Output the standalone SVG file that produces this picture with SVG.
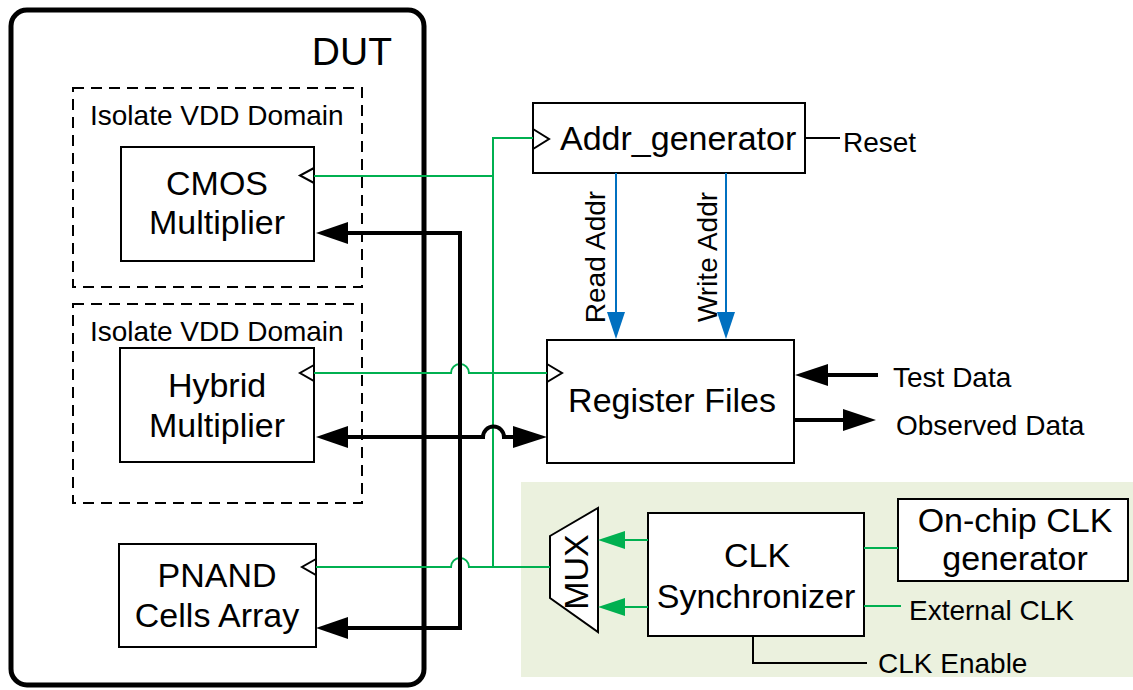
<svg xmlns="http://www.w3.org/2000/svg" width="1133" height="690" viewBox="0 0 1133 690">
<style>
text{font-family:"Liberation Sans",Arial,sans-serif;fill:#000}
.box{fill:#fff;stroke:#000;stroke-width:2}
.dash{fill:none;stroke:#000;stroke-width:2;stroke-dasharray:11 7}
.big{font-size:34px}
.lbl{font-size:28px}
.g{fill:none;stroke:#00B050;stroke-width:2}
.gthin{fill:none;stroke:#00B050;stroke-width:2}
.bk{fill:none;stroke:#000;stroke-width:4;stroke-linejoin:miter}
.thin{fill:none;stroke:#000;stroke-width:2}
.bl{fill:none;stroke:#0070C0;stroke-width:2}
.clk{fill:#fff;stroke:#000;stroke-width:2}
</style>
<rect x="521" y="482" width="612" height="195" fill="#EBF1DE"/>
<g id="dut">
<rect x="11" y="10" width="413" height="675" rx="16" ry="16" fill="none" stroke="#000" stroke-width="5"/>
<text x="392" y="65" font-size="39" text-anchor="end">DUT</text>
</g>
<g id="domain1">
<rect class="dash" x="73" y="88" width="289" height="199"/>
<text class="lbl" x="90" y="125">Isolate VDD Domain</text>
</g>
<g id="domain2">
<rect class="dash" x="73" y="304" width="289" height="199"/>
<text class="lbl" x="90" y="341">Isolate VDD Domain</text>
</g>
<g id="cmos">
<rect class="box" x="121" y="147" width="193" height="114"/>
<text class="big" x="217" y="195" text-anchor="middle">CMOS</text>
<text class="big" x="217" y="234" text-anchor="middle">Multiplier</text>
<polygon class="clk" points="314,168 300,175.5 314,183"/>
</g>
<g id="hybrid">
<rect class="box" x="120" y="348" width="194" height="114"/>
<text class="big" x="217" y="397" text-anchor="middle">Hybrid</text>
<text class="big" x="217" y="437" text-anchor="middle">Multiplier</text>
<polygon class="clk" points="314,365 300,373 314,381"/>
</g>
<g id="pnand">
<rect class="box" x="119" y="544" width="197" height="103"/>
<text class="big" x="217" y="587" text-anchor="middle">PNAND</text>
<text class="big" x="217" y="627" text-anchor="middle">Cells Array</text>
<polygon class="clk" points="316,559 302,567 316,575"/>
</g>
<g id="addr">
<rect class="box" x="533" y="103" width="272" height="70"/>
<polygon class="clk" points="533,129 549,139 533,149"/>
<text class="big" x="560" y="150">Addr_generator</text>
</g>
<g id="regfile">
<rect class="box" x="547" y="340" width="247" height="123"/>
<polygon class="clk" points="547,364 562,373 547,382"/>
<text class="big" x="672" y="412" text-anchor="middle">Register Files</text>
</g>
<g id="mux">
<polygon points="550,536 598,508 598,632 550,598" fill="#fff" stroke="#000" stroke-width="2"/>
<text x="588" y="572" font-size="34" text-anchor="middle" transform="rotate(-90 588 572)">MUX</text>
</g>
<g id="clksync">
<rect class="box" x="648" y="513" width="216" height="123"/>
<text class="big" x="757" y="567" text-anchor="middle">CLK</text>
<text class="big" x="756" y="608" text-anchor="middle">Synchronizer</text>
</g>
<g id="onchip">
<rect class="box" x="898" y="499" width="230" height="82"/>
<text class="big" x="1015" y="532" text-anchor="middle">On-chip CLK</text>
<text class="big" x="1015" y="570" text-anchor="middle">generator</text>
</g>
<g id="labels">
<text class="lbl" x="843" y="152">Reset</text>
<text class="lbl" x="605" y="257" text-anchor="middle" transform="rotate(-90 605 257)">Read Addr</text>
<text class="lbl" x="717" y="257" text-anchor="middle" transform="rotate(-90 717 257)">Write Addr</text>
<text class="lbl" x="893" y="387">Test Data</text>
<text class="lbl" x="896" y="435">Observed Data</text>
<text class="lbl" x="909" y="620">External CLK</text>
<text class="lbl" x="878" y="673">CLK Enable</text>
</g>
<g id="connectors">
<!-- green clock nets -->
<path class="g" d="M314 176 H493"/>
<path class="g" d="M493 567 V138 H533"/>
<path class="g" d="M314 373 H451 A9 9 0 0 1 469 373 H547"/>
<path class="g" d="M316 567 H451 A9 9 0 0 1 469 567 H550"/>
<path class="g" d="M864 548 H898"/>
<path class="g" d="M864 606 H901"/>
<path class="g" d="M648 540 H624"/>
<path class="g" d="M648 607 H624"/>
<polygon points="598,540 625,531 625,549" fill="#00B050"/>
<polygon points="598,607 625,598 625,616" fill="#00B050"/>
<!-- black data bus -->
<path class="bk" d="M346 233 H460 V628 H346"/>
<polygon points="316,233 348,222 348,244" fill="#000"/>
<polygon points="316,628 348,617 348,639" fill="#000"/>
<path class="bk" d="M346 437 H483 A10.5 10.5 0 0 1 504 437 H515"/>
<polygon points="316,437 348,426 348,448" fill="#000"/>
<polygon points="547,437 513,426 513,448" fill="#000"/>
<path class="bk" d="M878 375 H826"/>
<polygon points="795,375 828,364 828,386" fill="#000"/>
<path class="bk" d="M794 420 H845"/>
<polygon points="876,420 843,409 843,431" fill="#000"/>
<!-- blue address lines -->
<path class="bl" d="M616 173 V314"/>
<polygon points="616,339 607,312 625,312" fill="#0070C0"/>
<path class="bl" d="M726 173 V314"/>
<polygon points="726,339 717,312 735,312" fill="#0070C0"/>
<!-- thin black -->
<path class="thin" d="M805 138 H840"/>
<path class="thin" d="M753 636 V663 H867"/>
</g>
</svg>
